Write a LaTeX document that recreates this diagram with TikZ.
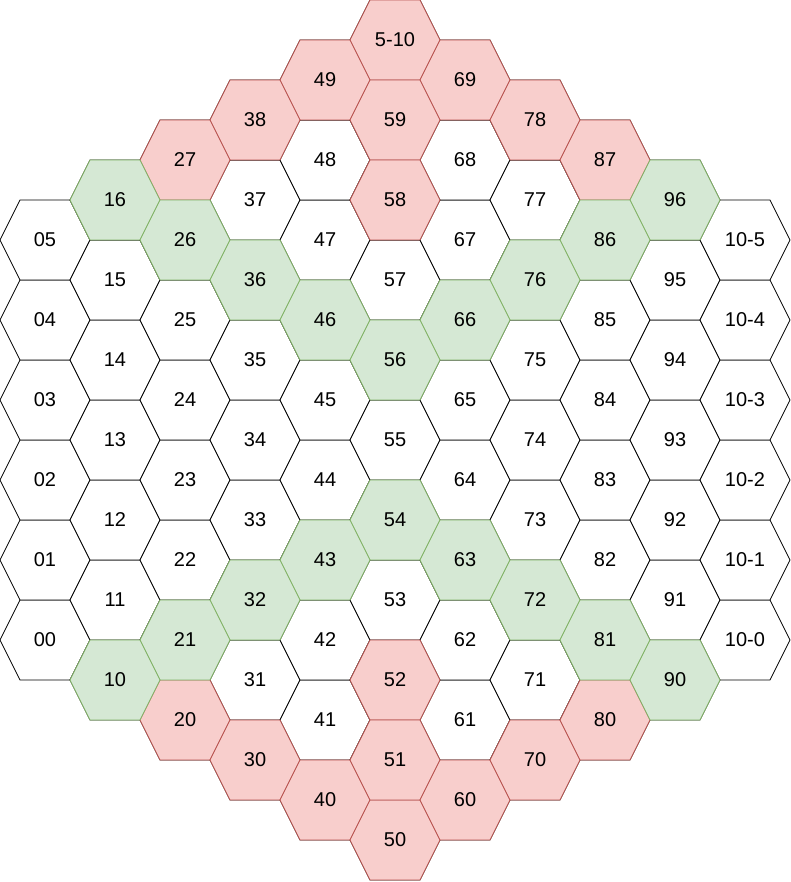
\documentclass[tikz,border=0pt]{standalone}
\usepackage{fontspec}
\setmainfont{Liberation Sans}
\definecolor{redfill}{HTML}{F8CECC}
\definecolor{redline}{HTML}{B85450}
\definecolor{greenfill}{HTML}{D5E8D4}
\definecolor{greenline}{HTML}{82B366}
\tikzset{
  hexw/.style={draw=black, fill=white, line width=0.8pt, line join=miter},
  hexr/.style={draw=redline, fill=redfill, line width=0.8pt},
  hexg/.style={draw=greenline, fill=greenfill, line width=0.8pt},
  lbl/.style={font=\fontsize{20}{24}\selectfont, inner sep=0pt}
}
% #1 style, #2 col, #3 row (index from bottom), #4 label
\newcommand{\hexcell}[4]{%
  \pgfmathsetmacro{\hx}{45+70*#2}%
  \pgfmathsetmacro{\hy}{(#2<=5 ? 640+40*#2 : 640+40*(10-#2)) - 80*#3}%
  \draw[#1] (\hx-45,\hy) -- (\hx-25,\hy-40) -- (\hx+25,\hy-40) -- (\hx+45,\hy) -- (\hx+25,\hy+40) -- (\hx-25,\hy+40) -- cycle;
  \node[lbl] (h#2-#3) at (\hx,\hy) {#4};%
}
\begin{document}
\begin{tikzpicture}[x=1pt,y=-1pt]
\useasboundingbox (0,0) rectangle (791,882);
% white cells
\foreach \c/\n in {0/5,1/6,2/7,3/8,4/9,5/10,6/9,7/8,8/7,9/6,10/5}{
  \foreach \r in {0,...,\n}{
    \hexcell{hexw}{\c}{\r}{}
  }
}
% labels
\foreach \c/\n in {0/5,1/6,2/7,3/8,4/9,5/10,6/9,7/8,8/7,9/6}{
  \foreach \r in {0,...,\n}{
    \ifnum\c=5 \ifnum\r=10
      \node[lbl] at ({45+70*5},{640+200-800}) {5-10};
    \else
      \node[lbl] at ({45+70*\c},{(\c<=5 ? 640+40*\c : 640+40*(10-\c)) - 80*\r}) {\c\r};
    \fi\else
      \node[lbl] at ({45+70*\c},{(\c<=5 ? 640+40*\c : 640+40*(10-\c)) - 80*\r}) {\c\r};
    \fi
  }
}
\foreach \r in {0,...,5}{
  \node[lbl] at (745,{640-80*\r}) {10-\r};
}
% red cells
\foreach \c/\r in {5/10,4/9,6/9,5/9,3/8,7/8,2/7,8/7,5/8,5/2,2/0,3/0,4/0,5/0,5/1,6/0,7/0,8/0}{
  \hexcell{hexr}{\c}{\r}{\ifnum\c=5 \ifnum\r=10 5-10\else\c\r\fi\else\c\r\fi}
}
% green cells
\foreach \c/\r in {1/6,9/6,2/6,8/6,3/6,7/6,4/6,6/6,5/6,5/4,4/3,6/3,3/2,7/2,2/1,8/1,1/0,9/0}{
  \hexcell{hexg}{\c}{\r}{\c\r}
}
\end{tikzpicture}
\end{document}
